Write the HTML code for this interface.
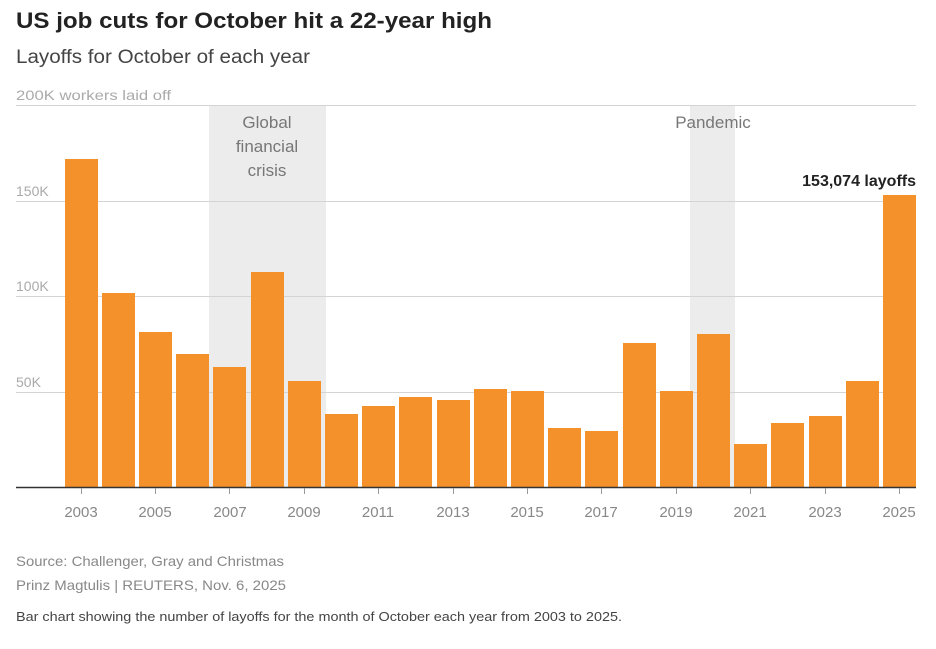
<!DOCTYPE html>
<html><head><meta charset="utf-8"><style>
body{margin:0;background:#fff;width:936px;height:644px;overflow:hidden;font-family:"Liberation Sans",sans-serif}
</style></head><body>
<svg width="936" height="644" xmlns="http://www.w3.org/2000/svg" font-family="Liberation Sans, sans-serif">
<text x="16" y="28" font-size="22" font-weight="bold" fill="#222" textLength="476" lengthAdjust="spacingAndGlyphs">US job cuts for October hit a 22-year high</text>
<text x="16" y="63" font-size="19" fill="#444" textLength="294" lengthAdjust="spacingAndGlyphs">Layoffs for October of each year</text>
<rect x="209" y="105" width="117" height="382" fill="#ececec"/>
<rect x="690" y="105" width="45" height="382" fill="#ececec"/>
<g stroke="#d4d4d4" stroke-width="1">
<line x1="16" x2="916" y1="105.5" y2="105.5"/>
<line x1="16" x2="916" y1="201.5" y2="201.5"/>
<line x1="16" x2="916" y1="296.5" y2="296.5"/>
<line x1="16" x2="916" y1="392.5" y2="392.5"/>
</g>
<g font-size="14" fill="#aaa">
<text x="16" y="100" textLength="155" lengthAdjust="spacingAndGlyphs">200K workers laid off</text>
<text x="16" y="196">150K</text>
<text x="16" y="291">100K</text>
<text x="16" y="387">50K</text>
</g>
<g font-size="17" fill="#777" text-anchor="middle">
<text x="267" y="128">Global</text>
<text x="267" y="152">financial</text>
<text x="267" y="176">crisis</text>
<text x="713" y="128">Pandemic</text>
</g>
<g fill="#f5912a">
<rect x="65" y="159" width="33" height="328"/>
<rect x="102" y="293" width="33" height="194"/>
<rect x="139" y="332" width="33" height="155"/>
<rect x="176" y="354" width="33" height="133"/>
<rect x="213" y="367" width="33" height="120"/>
<rect x="251" y="272" width="33" height="215"/>
<rect x="288" y="381" width="33" height="106"/>
<rect x="325" y="414" width="33" height="73"/>
<rect x="362" y="406" width="33" height="81"/>
<rect x="399" y="397" width="33" height="90"/>
<rect x="437" y="400" width="33" height="87"/>
<rect x="474" y="389" width="33" height="98"/>
<rect x="511" y="391" width="33" height="96"/>
<rect x="548" y="428" width="33" height="59"/>
<rect x="585" y="431" width="33" height="56"/>
<rect x="623" y="343" width="33" height="144"/>
<rect x="660" y="391" width="33" height="96"/>
<rect x="697" y="334" width="33" height="153"/>
<rect x="734" y="444" width="33" height="43"/>
<rect x="771" y="423" width="33" height="64"/>
<rect x="809" y="416" width="33" height="71"/>
<rect x="846" y="381" width="33" height="106"/>
<rect x="883" y="195" width="33" height="292"/>
</g>
<line x1="16" x2="916" y1="487.5" y2="487.5" stroke="#333" stroke-width="1.5"/>
<g stroke="#999"><line x1="81.5" x2="81.5" y1="488" y2="494"/><line x1="155.5" x2="155.5" y1="488" y2="494"/><line x1="229.5" x2="229.5" y1="488" y2="494"/><line x1="304.5" x2="304.5" y1="488" y2="494"/><line x1="378.5" x2="378.5" y1="488" y2="494"/><line x1="453.5" x2="453.5" y1="488" y2="494"/><line x1="527.5" x2="527.5" y1="488" y2="494"/><line x1="601.5" x2="601.5" y1="488" y2="494"/><line x1="676.5" x2="676.5" y1="488" y2="494"/><line x1="750.5" x2="750.5" y1="488" y2="494"/><line x1="825.5" x2="825.5" y1="488" y2="494"/><line x1="899.5" x2="899.5" y1="488" y2="494"/></g>
<g font-size="15" fill="#888" text-anchor="middle">
<text x="81" y="517">2003</text><text x="155" y="517">2005</text><text x="230" y="517">2007</text><text x="304" y="517">2009</text><text x="378" y="517">2011</text><text x="453" y="517">2013</text><text x="527" y="517">2015</text><text x="601" y="517">2017</text><text x="676" y="517">2019</text><text x="750" y="517">2021</text><text x="825" y="517">2023</text><text x="899" y="517">2025</text>
</g>
<text x="916" y="186" font-size="16" font-weight="bold" fill="#222" text-anchor="end">153,074 layoffs</text>
<text x="16" y="566" font-size="14" fill="#888" textLength="268" lengthAdjust="spacingAndGlyphs">Source: Challenger, Gray and Christmas</text>
<text x="16" y="590" font-size="14" fill="#888" textLength="270" lengthAdjust="spacingAndGlyphs">Prinz Magtulis | REUTERS, Nov. 6, 2025</text>
<text x="16" y="621" font-size="13" fill="#444" textLength="606" lengthAdjust="spacingAndGlyphs">Bar chart showing the number of layoffs for the month of October each year from 2003 to 2025.</text>
</svg>
</body></html>
